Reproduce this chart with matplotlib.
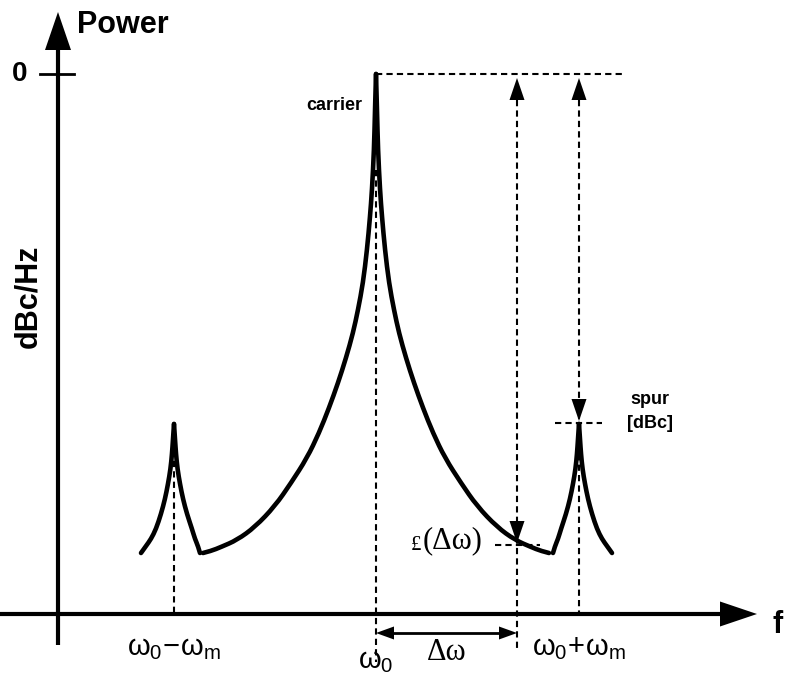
import matplotlib
matplotlib.use("Agg")
import matplotlib.pyplot as plt
from matplotlib.path import Path
from matplotlib.patches import PathPatch

plt.rcParams['mathtext.fontset'] = 'custom'
plt.rcParams['mathtext.rm'] = 'Liberation Sans'
plt.rcParams['mathtext.it'] = 'Liberation Sans'
plt.rcParams['mathtext.bf'] = 'Liberation Sans:bold'

# ---------------------------------------------------------------------------
# Data (drawing units = pixels of the 794x675 canvas, y grows downwards)
# ---------------------------------------------------------------------------
axis_x0 = 58            # frequency axis origin (power axis position)
axis_y0 = 614           # power axis origin (frequency axis position)
zero_level = 74         # 0 dBc level

carrier_f = 376
spur_f = [174, 579]
spur_level = 424
offset_f = 517          # w0 + dw
phase_noise_level = 545  # L(dw)

# carrier skirt: level -> half width
carrier_y = [74, 110, 150, 190, 217, 250, 283, 310, 333, 358, 383, 408,
             433, 458, 483, 506, 527, 540, 547, 551, 553]
carrier_dx = [0, 1, 2, 4, 6, 9, 13, 18, 23, 30, 38, 47,
              57, 69, 85, 101, 121, 139, 155, 165, 173]

# spur skirt: depth below spur peak -> half width (outer / inner side)
spur_dy = [0, 15, 30, 45, 60, 75, 90, 105, 115, 122, 129]
spur_dx_outer = [0, 1, 2, 3.5, 6, 9, 13, 18, 23, 28, 33]
spur_dx_inner = [0, 1, 2, 3.5, 6, 9, 13, 18, 21, 24, 26]

freq_labels = [r'$\omega_0\!-\!\omega_m$', r'$\omega_0$', r'$\omega_0\!+\!\omega_m$']

# ---------------------------------------------------------------------------
fig = plt.figure(figsize=(7.94, 6.75), dpi=100)
ax = fig.add_axes([0, 0, 1, 1])
ax.set_xlim(0, 794)
ax.set_ylim(675, 0)
ax.axis('off')

K = 'black'
DASH = (0, (3, 2))


def head(x, y, direction, length, width):
    # filled triangular arrow head with its tip at (x, y)
    dx, dy = direction
    bx, by = x - dx * length, y - dy * length
    px, py = -dy * width / 2, dx * width / 2
    ax.fill([x, bx + px, bx - px], [y, by + py, by - py], color=K, lw=0, zorder=5)


def smooth(xs, ys, lw=3.3):
    # quadratic bezier through the midpoints of the read points
    pts = list(zip(xs, ys))
    verts = [pts[0]]
    codes = [Path.MOVETO]
    for i in range(1, len(pts) - 1):
        mid = ((pts[i][0] + pts[i + 1][0]) / 2, (pts[i][1] + pts[i + 1][1]) / 2)
        if i == len(pts) - 2:
            mid = pts[-1]
        verts += [pts[i], mid]
        codes += [Path.CURVE3, Path.CURVE3]
    ax.add_patch(PathPatch(Path(verts, codes), fill=False, ec=K, lw=lw,
                           capstyle='round', joinstyle='round'))


# axes
ax.plot([0, 722], [axis_y0, axis_y0], color=K, lw=3, solid_capstyle='butt')
head(757, axis_y0, (1, 0), 37, 25)
ax.plot([axis_x0, axis_x0], [645, 48], color=K, lw=3, solid_capstyle='butt')
head(axis_x0, 12, (0, -1), 38, 26)
ax.plot([40, 74], [zero_level, zero_level], color=K, lw=2)

# carrier
smooth([carrier_f - d for d in carrier_dx], carrier_y)
smooth([carrier_f + d for d in carrier_dx], carrier_y)

# spurs (inner side faces the carrier)
for f in spur_f:
    sign = 1 if f > carrier_f else -1
    ys = [spur_level + d for d in spur_dy]
    smooth([f + sign * d for d in spur_dx_outer], ys)
    smooth([f - sign * d for d in spur_dx_inner], ys)

# dashed guides
ax.plot([carrier_f, 625], [zero_level, zero_level], color=K, lw=1.5, ls=DASH)
ax.plot([carrier_f, carrier_f], [170, 662], color=K, lw=1.5, ls=DASH)
ax.plot([spur_f[0], spur_f[0]], [440, axis_y0], color=K, lw=1.5, ls=DASH)
ax.plot([spur_f[1], spur_f[1]], [100, axis_y0], color=K, lw=1.5, ls=DASH)
ax.plot([offset_f, offset_f], [100, 648], color=K, lw=1.5, ls=DASH)
ax.plot([555, 602], [spur_level - 1, spur_level - 1], color=K, lw=1.5, ls=DASH)
ax.plot([495, 540], [phase_noise_level, phase_noise_level], color=K, lw=1.5, ls=DASH)

# measurement arrow heads
for f in (offset_f, spur_f[1]):
    head(f, zero_level + 4, (0, -1), 22, 15)
head(offset_f, phase_noise_level - 2, (0, 1), 22, 15)
head(spur_f[1], spur_level - 3, (0, 1), 22, 15)

# delta-omega double arrow
ax.plot([carrier_f + 15, offset_f - 15], [633, 633], color=K, lw=2)
head(carrier_f, 633, (-1, 0), 18, 13)
head(offset_f, 633, (1, 0), 18, 13)

# texts
bold = dict(family='Liberation Sans', weight='bold', color=K)
ax.text(77, 25, 'Power', fontsize=22, ha='left', va='center', **bold)
ax.text(20, zero_level, '0', fontsize=20, ha='center', va='center', **bold)
ax.text(28, 296, 'dBc/Hz', fontsize=22, rotation=90, ha='center', va='center', **bold)
ax.text(778, 625, 'f', fontsize=22, ha='center', va='center', **bold)
ax.text(334, 106, 'carrier', fontsize=13, ha='center', va='center', **bold)
ax.text(650, 400, 'spur', fontsize=13, ha='center', va='center', **bold)
ax.text(650, 423, '[dBc]', fontsize=13, ha='center', va='center', **bold)

for x, y, s in zip([spur_f[0], carrier_f, spur_f[1]], [648, 661, 648], freq_labels):
    ax.text(x, y, s, fontsize=21, ha='center', va='center', color=K)

serif = dict(family=['Liberation Serif', 'DejaVu Serif'], color=K)
ax.text(447, 652, 'Δω', fontsize=22, ha='center', va='center', **serif)
ax.text(483, 541, '(Δω)', fontsize=22, ha='right', va='center', **serif)
ax.text(421, 545, '£', fontsize=15, ha='right', va='center', **serif)

fig.savefig('out.png', dpi=100)
